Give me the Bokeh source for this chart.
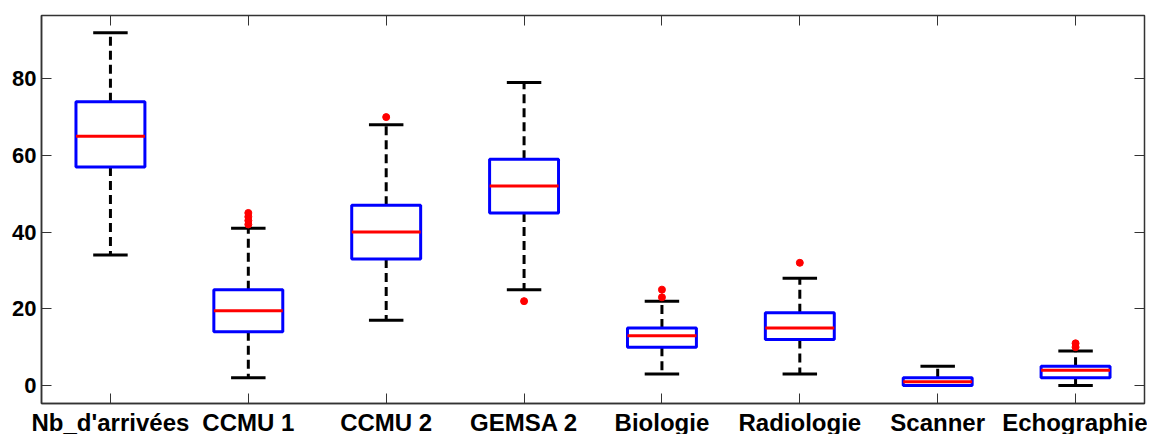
from bokeh.plotting import figure
from bokeh.models import Range1d, FixedTicker, LinearAxis
from bokeh.embed import file_html
from bokeh.resources import INLINE

categories = ["Nb_d'arrivées", "CCMU 1", "CCMU 2", "GEMSA 2", "Biologie",
              "Radiologie", "Scanner", "Echographie"]
lower_whisker = [34, 2, 17, 25, 3, 3, 0, 0]
q1 = [57, 14, 33, 45, 10, 12, 0, 2]
median = [65, 19.5, 40, 52, 13, 15, 1, 4]
q3 = [74, 25, 47, 59, 15, 19, 2, 5]
upper_whisker = [92, 41, 68, 79, 22, 28, 5, 9]
outlier_cat = [2, 2, 2, 2, 3, 4, 5, 5, 6, 8, 8]
outlier_val = [42, 43, 44, 45, 70, 22, 23, 25, 32, 10, 11]
y_ticks = [0, 20, 40, 60, 80]

pos = list(range(1, len(categories) + 1))
hw = 0.25   # half box width
cw = 0.125  # half cap width

p = figure(frame_width=1103, frame_height=388, output_backend="svg",
           toolbar_location=None, x_range=Range1d(0.5, 8.5),
           y_range=Range1d(-4.7, 96.5),
           min_border_left=41, min_border_right=3, min_border_top=15,
           min_border_bottom=0)
p.xgrid.visible = False
p.ygrid.visible = False
p.outline_line_color = "#333333"
p.outline_line_width = 1.5
p.background_fill_color = "white"
p.border_fill_color = "white"

FONT = "Liberation Sans"

# whiskers (dashed)
p.segment(x0=pos, y0=q3, x1=pos, y1=upper_whisker, line_color="black",
          line_width=3, line_dash="9 5")
p.segment(x0=pos, y0=q1, x1=pos, y1=lower_whisker, line_color="black",
          line_width=3, line_dash="9 5")
# caps
p.segment(x0=[x - cw for x in pos], y0=upper_whisker, x1=[x + cw for x in pos],
          y1=upper_whisker, line_color="black", line_width=3)
p.segment(x0=[x - cw for x in pos], y0=lower_whisker, x1=[x + cw for x in pos],
          y1=lower_whisker, line_color="black", line_width=3)
# boxes
p.quad(left=[x - hw for x in pos], right=[x + hw for x in pos], top=q3,
       bottom=q1, fill_color="white", line_color="#0000ff", line_width=3)
# medians
p.segment(x0=[x - hw for x in pos], y0=median, x1=[x + hw for x in pos],
          y1=median, line_color="#ff0000", line_width=3)
# outliers
p.scatter(x=outlier_cat, y=outlier_val, marker="circle", size=7,
          fill_color="#ff0000", line_color="#ff0000")

# bottom axis
xa = p.xaxis[0]
xa.ticker = FixedTicker(ticks=pos)
xa.major_label_overrides = {i: c for i, c in zip(pos, categories)}
xa.major_label_text_font = FONT
xa.major_label_text_font_style = "bold"
xa.major_label_text_font_size = "24px"
xa.major_label_text_color = "black"
xa.major_label_standoff = 5
xa.major_tick_in = 10
xa.major_tick_out = 0
xa.minor_tick_line_color = None
xa.axis_line_color = "#333333"
xa.axis_line_width = 1.5
xa.major_tick_line_color = "#333333"

ya = p.yaxis[0]
ya.ticker = FixedTicker(ticks=y_ticks)
ya.major_label_text_font = FONT
ya.major_label_text_font_style = "bold"
ya.major_label_text_font_size = "22px"
ya.major_label_text_color = "black"
ya.major_label_standoff = 5
ya.major_tick_in = 10
ya.major_tick_out = 0
ya.minor_tick_line_color = None
ya.axis_line_color = "#333333"
ya.axis_line_width = 1.5
ya.major_tick_line_color = "#333333"

# mirrored ticks (top and right), no labels
top = LinearAxis(ticker=FixedTicker(ticks=pos), major_tick_in=10,
                 major_tick_out=0,
                 major_label_overrides={t: "" for t in pos},
                 major_label_standoff=0, minor_tick_line_color=None,
                 axis_line_color="#333333", major_tick_line_color="#333333")
p.add_layout(top, "above")
right = LinearAxis(ticker=FixedTicker(ticks=y_ticks), major_tick_in=10,
                   major_tick_out=0,
                   major_label_overrides={t: "" for t in y_ticks},
                   major_label_standoff=0, minor_tick_line_color=None,
                   axis_line_color="#333333", major_tick_line_color="#333333")
p.add_layout(right, "right")

open("out.html", "w").write(file_html(p, INLINE))
